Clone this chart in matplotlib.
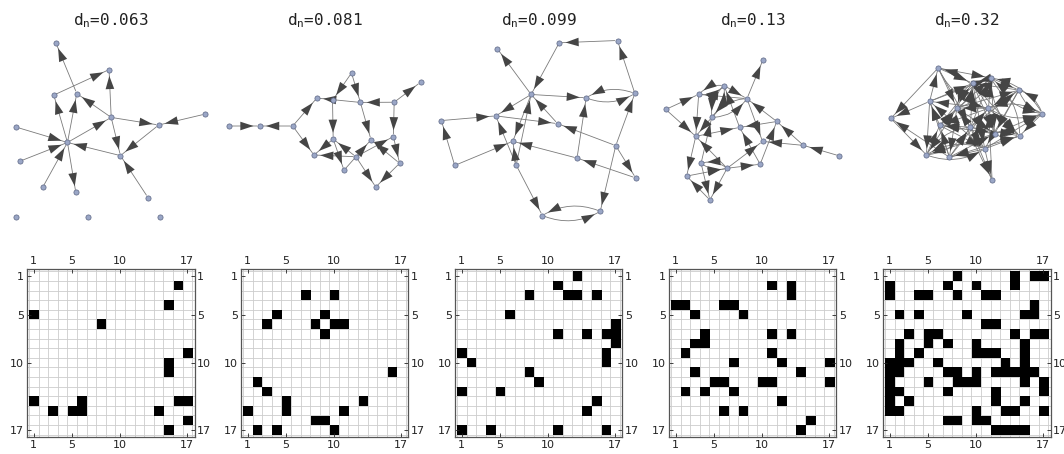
import numpy as np
import matplotlib.pyplot as plt
from matplotlib.patches import FancyArrowPatch, ArrowStyle

N = 17
density_labels = ["0.063", "0.081", "0.099", "0.13", "0.32"]
tick_vals = [1, 5, 10, 17]

# (row, col) = edge row -> col
edges_063 = [(2, 16), (4, 15), (5, 1), (6, 8), (9, 17), (10, 15), (11, 15),
             (14, 1), (14, 6), (14, 16), (14, 17), (15, 3), (15, 5), (15, 6),
             (15, 14), (16, 17), (17, 15)]
edges_081 = [(3, 7), (3, 10), (5, 4), (5, 9), (6, 3), (6, 8), (6, 10), (6, 11),
             (7, 9), (11, 16), (12, 2), (13, 3), (14, 5), (15, 5), (14, 13),
             (15, 1), (15, 11), (16, 8), (16, 9), (17, 2), (17, 4), (17, 10)]
edges_099 = [(1, 13), (2, 11), (3, 8), (3, 12), (3, 13), (3, 15), (5, 6),
             (6, 17), (7, 11), (7, 14), (7, 16), (7, 17), (8, 17), (9, 1),
             (9, 16), (10, 16), (10, 2), (11, 8), (12, 9), (13, 1), (13, 5),
             (14, 15), (15, 14), (17, 1), (17, 4), (17, 11), (17, 16)]
edges_13 = [(2, 11), (2, 13), (3, 13), (4, 1), (4, 2), (4, 6), (4, 7), (5, 3),
            (5, 8), (7, 4), (7, 11), (7, 13), (8, 3), (8, 4), (9, 2), (9, 11),
            (10, 7), (10, 12), (10, 17), (11, 3), (11, 14), (12, 5), (12, 6),
            (12, 10), (12, 11), (12, 17), (13, 2), (13, 4), (13, 7), (14, 12),
            (15, 6), (15, 8), (16, 15), (17, 14)]
edges_32 = [(1, 8), (1, 14), (1, 16), (1, 17),
            (2, 1), (2, 7), (2, 10), (2, 14),
            (3, 1), (3, 4), (3, 5), (3, 8), (3, 11), (3, 12),
            (4, 16),
            (5, 2), (5, 4), (5, 9), (5, 15), (5, 16),
            (6, 11), (6, 12),
            (7, 3), (7, 5), (7, 6), (7, 14), (7, 16), (7, 17),
            (8, 2), (8, 5), (8, 7), (8, 10), (8, 15),
            (9, 2), (9, 4), (9, 10), (9, 11), (9, 12), (9, 15),
            (10, 1), (10, 2), (10, 3), (10, 6), (10, 13), (10, 15),
            (11, 1), (11, 2), (11, 7), (11, 8), (11, 10), (11, 12), (11, 13),
            (11, 14), (11, 15), (11, 16),
            (12, 1), (12, 5), (12, 8), (12, 9), (12, 10), (12, 15), (12, 17),
            (13, 1), (13, 2), (13, 7), (13, 12), (13, 17),
            (14, 1), (14, 3), (14, 12), (14, 15),
            (15, 1), (15, 2), (15, 10), (15, 13), (15, 14), (15, 17),
            (16, 7), (16, 8), (16, 10), (16, 11),
            (17, 12), (17, 13), (17, 14), (17, 15)]
all_edges = [edges_063, edges_081, edges_099, edges_13, edges_32]

# drawing box of each network (max width, max height, centre y) in pixels
graph_box = [(192, 155, 120), (192, 120, 130), (195, 175, 128),
             (195, 140, 130), (200, 112, 124)]


def stress_layout(adj, iters=400):
    """Stress majorization on shortest-path distances (deterministic)."""
    n = len(adj)
    A = (adj + adj.T) > 0
    D = np.where(A, 1.0, np.inf)
    np.fill_diagonal(D, 0)
    for k in range(n):  # Floyd-Warshall
        D = np.minimum(D, D[:, k:k + 1] + D[k:k + 1, :])
    D[np.isinf(D)] = D[~np.isinf(D)].max() + 1
    # classical MDS start
    J = np.eye(n) - 1.0 / n
    Bm = -0.5 * J @ (D ** 2) @ J
    w, v = np.linalg.eigh(Bm)
    X = v[:, -2:][:, ::-1] * np.sqrt(np.maximum(w[-2:][::-1], 1e-6))
    Wt = np.zeros_like(D)
    nz = D > 0
    Wt[nz] = D[nz] ** -2
    V = -Wt.copy()
    np.fill_diagonal(V, Wt.sum(1))
    Vp = np.linalg.pinv(V)
    for _ in range(iters):
        dist = np.linalg.norm(X[:, None] - X[None], axis=-1)
        dist[dist < 1e-9] = 1e-9
        Bx = -Wt * D / dist
        np.fill_diagonal(Bx, 0)
        np.fill_diagonal(Bx, -Bx.sum(1))
        X = Vp @ Bx @ X
    X -= X.mean(0)
    w, v = np.linalg.eigh(np.cov(X.T))
    return X @ v[:, ::-1]


W, H = 1064, 454
fig = plt.figure(figsize=(W / 100, H / 100), dpi=100)
gax = fig.add_axes([0, 0, 1, 1])
gax.set_xlim(0, W)
gax.set_ylim(H, 0)
gax.axis('off')

head = ArrowStyle('-|>', head_length=9.5, head_width=3.1)

for i, (edges, dlab) in enumerate(zip(all_edges, density_labels)):
    left = 26.5 + 214 * i
    cx = left + 84

    M = np.zeros((N, N))
    for r, c in edges:
        M[r - 1, c - 1] = 1

    gax.text(cx, 21, r'd$_{\mathtt{n}}$=' + dlab, ha='center', va='center',
             fontsize=11.5, family='DejaVu Sans Mono', color='#222222')

    # ---- network drawing ----
    bw, bh, cy = graph_box[i]
    deg = M.sum(0) + M.sum(1)
    conn = np.where(deg > 0)[0]
    iso = np.where(deg == 0)[0]
    p = stress_layout(M[np.ix_(conn, conn)])
    span = p.max(0) - p.min(0)
    s = min(bw / span[0], bh / span[1])
    mid = (p.max(0) + p.min(0)) / 2
    xy = np.zeros((N, 2))
    xy[conn, 0] = cx + (p[:, 0] - mid[0]) * s
    xy[conn, 1] = cy + (p[:, 1] - mid[1]) * s
    x0 = xy[conn, 0].min()
    for j, node in enumerate(iso):
        xy[node] = (x0 + 72 * j, 217)

    for r, c in edges:
        a, b = xy[r - 1], xy[c - 1]
        rad = 0.25 if M[c - 1, r - 1] else 0.0
        cs = f'arc3,rad={rad}'
        gax.add_patch(FancyArrowPatch(a, b, arrowstyle='-', shrinkA=2, shrinkB=2,
                                      lw=0.6, color='#7a7a7a', connectionstyle=cs,
                                      zorder=2))
        gax.add_patch(FancyArrowPatch(a, b, arrowstyle=head, mutation_scale=1,
                                      shrinkA=2, shrinkB=4.5, lw=0,
                                      facecolor='#454545', edgecolor='none',
                                      connectionstyle=cs, zorder=2.5))
    gax.scatter(xy[:, 0], xy[:, 1], s=14, facecolor='#9aa6c6',
                edgecolor='#5c6684', linewidth=0.5, zorder=3)

    # ---- adjacency matrix ----
    ax = fig.add_axes([left / W, (H - 437) / H, 168 / W, 168 / H])
    ax.vlines(np.arange(0.5, N + 1), 0.25, N + 0.75, color='#cccccc', lw=0.6, zorder=0)
    ax.hlines(np.arange(0.5, N + 1), 0.25, N + 0.75, color='#cccccc', lw=0.6, zorder=0)
    ax.imshow(np.ma.masked_where(M == 0, M), cmap='gray_r', vmin=0, vmax=1,
              extent=(0.5, N + 0.5, N + 0.5, 0.5), interpolation='nearest',
              zorder=1, aspect='auto')
    ax.set_xlim(0.25, N + 0.75)
    ax.set_ylim(N + 0.75, 0.25)
    ax.set_xticks(tick_vals)
    ax.set_yticks(tick_vals)
    ax.tick_params(top=True, labeltop=True, right=True, labelright=True,
                   direction='in', length=3, width=0.6, labelsize=8, pad=2,
                   colors='#222222')
    for sp in ax.spines.values():
        sp.set_linewidth(0.9)
        sp.set_color('#555555')

fig.savefig('out.png', dpi=100)
